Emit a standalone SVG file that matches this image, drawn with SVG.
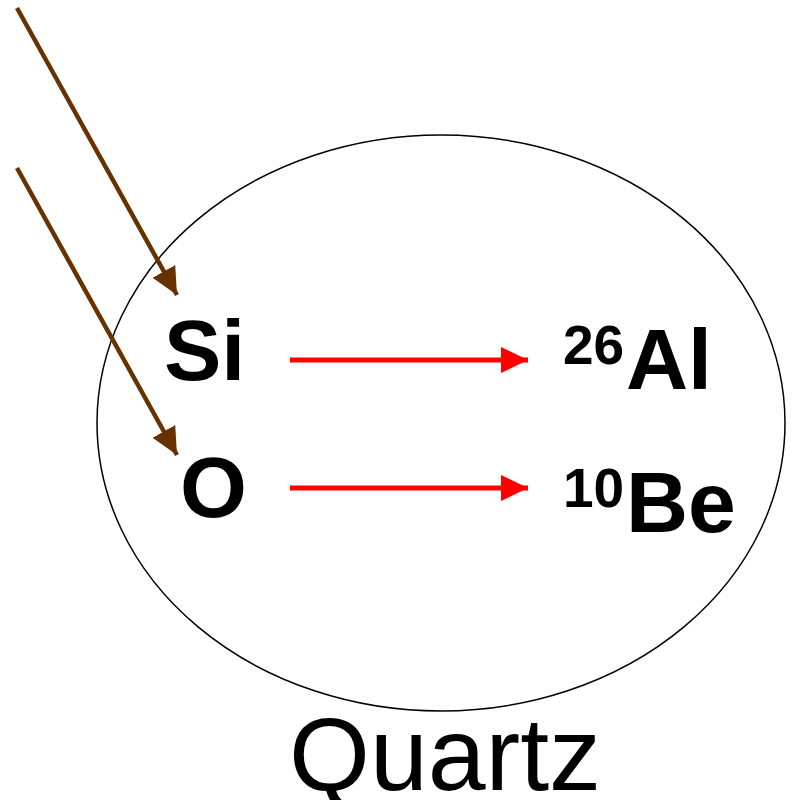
<svg xmlns="http://www.w3.org/2000/svg" width="792" height="800" viewBox="0 0 792 800">
<style>
.lbl{font-family:"Liberation Sans",Arial,sans-serif;font-weight:bold;fill:#000}
.cap{font-family:"Liberation Sans",Arial,sans-serif;fill:#000}
.ray{stroke:#663300;stroke-width:4.5;fill:none}
.rx{stroke:#ff0000;stroke-width:5;fill:none}
</style>
<defs>
<marker id="bh" markerUnits="userSpaceOnUse" viewBox="0 0 30 30" refX="27" refY="15" markerWidth="30" markerHeight="30" orient="auto">
<path d="M0,2 L27,15 L0,28 Z" fill="#663300"/>
</marker>
<marker id="rh" markerUnits="userSpaceOnUse" viewBox="0 0 30 30" refX="27" refY="15" markerWidth="30" markerHeight="30" orient="auto">
<path d="M0,2 L27,15 L0,28 Z" fill="#ff0000"/>
</marker>
</defs>
<g id="quartz">
<ellipse cx="441" cy="423" rx="344" ry="288" fill="none" stroke="#000" stroke-width="1.5"/>
<text class="cap" x="289" y="790" font-size="104">Quartz</text>
</g>
<g id="si"><text class="lbl" x="164" y="380" font-size="86">Si</text></g>
<g id="o"><text class="lbl" x="180" y="517" font-size="86">O</text></g>
<g id="al26"><text class="lbl" x="563" y="364" font-size="55">26</text><text class="lbl" x="626" y="389" font-size="86">Al</text></g>
<g id="be10"><text class="lbl" x="563" y="507" font-size="55">10</text><text class="lbl" x="626" y="532" font-size="86">Be</text></g>
<g id="connectors">
<line class="ray" x1="17" y1="8" x2="177" y2="295" marker-end="url(#bh)"/>
<line class="ray" x1="17" y1="168" x2="177" y2="455" marker-end="url(#bh)"/>
<line class="rx" x1="290" y1="360" x2="528" y2="360" marker-end="url(#rh)"/>
<line class="rx" x1="290" y1="488" x2="528" y2="488" marker-end="url(#rh)"/>
</g>
</svg>
